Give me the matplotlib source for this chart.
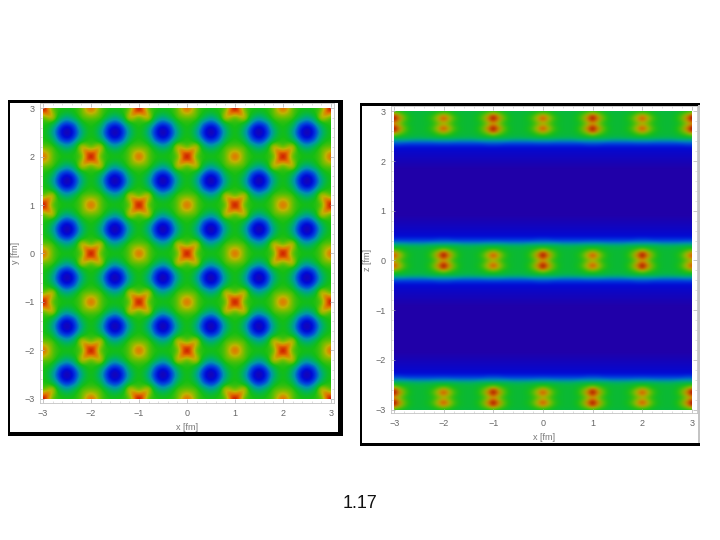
import numpy as np
import matplotlib as mpl
mpl.use('Agg')
import matplotlib.pyplot as plt
from matplotlib.colors import LinearSegmentedColormap
from matplotlib.patches import Rectangle
from matplotlib.ticker import MultipleLocator

W, H = 720, 540

# colour scale, low to high
scale_colors = ['#2300a5', '#000ad7', '#0046dc', '#0096aa', '#00b45a', '#14be14',
                '#6ebe00', '#beb400', '#e17800', '#d22800', '#a00000']

# xy slice, quarter tables around a lattice node, offsets 0..0.5 fm in 0.1 steps
node_big = [[1.00, .80, .56, .52, .51, .50],
            [.80, .87, .65, .52, .48, .45],
            [.56, .65, .75, .48, .38, .33],
            [.52, .52, .48, .36, .25, .21],
            [.51, .48, .38, .25, .12, .07],
            [.50, .45, .33, .21, .07, .01]]
node_small = [[.86, .74, .58, .52, .51, .50],
              [.74, .68, .57, .52, .47, .45],
              [.58, .57, .56, .46, .38, .33],
              [.52, .52, .46, .31, .25, .21],
              [.51, .47, .38, .25, .12, .07],
              [.50, .45, .33, .21, .07, .01]]

# xz slice, quarter tables around a lobe pair: z offset 0..0.5 (0.05 steps), x offset 0..0.5 (0.1 steps)
band_big = [[.76, .66, .54, .47, .46, .45],
            [.88, .72, .57, .49, .46, .45],
            [1.00, .78, .60, .50, .46, .45],
            [.92, .73, .58, .49, .46, .45],
            [.70, .61, .53, .47, .45, .45],
            [.54, .51, .47, .45, .44, .43],
            [.42, .42, .41, .40, .39, .38],
            [.30, .30, .30, .29, .28, .28],
            [.22, .22, .21, .20, .20, .20],
            [.15, .15, .14, .14, .14, .14],
            [.09, .09, .09, .09, .09, .09]]
band_small = [[.68, .61, .52, .47, .46, .45],
              [.78, .66, .54, .48, .46, .45],
              [.86, .70, .56, .49, .46, .45],
              [.78, .66, .54, .48, .46, .45],
              [.62, .56, .50, .46, .45, .45],
              [.50, .49, .46, .45, .44, .43],
              [.41, .41, .40, .39, .39, .38],
              [.29, .29, .29, .28, .28, .28],
              [.21, .21, .20, .20, .20, .20],
              [.14, .14, .14, .14, .14, .14],
              [.09, .09, .09, .09, .09, .09]]
# blue gap between the bands, z offset 0.55 .. 1.35 from the nearest band
gap_profile = [.08, .07, .06, .05, .04, .03, .02, .01, .01, .01, .01, .01, .01, .01, .01, .01, .01]
band_centres = [-2.75, 0.0, 2.75]

tick_values = [-3, -2, -1, 0, 1, 2, 3]


def xy_field():
    big, small = np.array(node_big), np.array(node_small)
    xs = np.round(np.arange(-3, 3.01, 0.1), 1)
    out = np.zeros((xs.size, xs.size))
    for j, y in enumerate(xs):
        for i, x in enumerate(xs):
            nx, ny = np.floor(x + 0.5), np.floor(y + 0.5)
            ix, iy = int(round(abs(x - nx) * 10)), int(round(abs(y - ny) * 10))
            out[j, i] = (big if (nx + ny) % 2 == 0 else small)[iy, ix]
    return out


def xz_field():
    big, small = np.array(band_big), np.array(band_small)
    xs = np.round(np.arange(-3, 3.01, 0.1), 1)
    zs = np.round(np.arange(-3, 3.001, 0.05), 2)
    out = np.zeros((zs.size, xs.size))
    for j, z in enumerate(zs):
        c = min(band_centres, key=lambda b: abs(z - b))
        iz = int(round(abs(z - c) * 20))
        odd = abs(c) > 1
        for i, x in enumerate(xs):
            nx = np.floor(x + 0.5)
            ix = int(round(abs(x - nx) * 10))
            is_big = (nx % 2 == 1) if odd else (nx % 2 == 0)
            if iz <= 10:
                out[j, i] = (big if is_big else small)[iz, ix]
            else:
                out[j, i] = gap_profile[min(iz - 11, len(gap_profile) - 1)]
    return out


def px_rect(fig, x0, y0, x1, y1, color):
    fig.add_artist(Rectangle((x0 / W, 1 - y1 / H), (x1 - x0) / W, (y1 - y0) / H,
                             transform=fig.transFigure, color=color, lw=0))


def panel(fig, box, xlim, ylim, field, dx, dy, ylabel, xlabel_y, ylabel_x):
    x0, y0, x1, y1 = box
    ax = fig.add_axes([x0 / W, 1 - y1 / H, (x1 - x0) / W, (y1 - y0) / H])
    im = ax.imshow(field, origin='lower', cmap=cmap, vmin=0, vmax=1, aspect='auto',
                   interpolation='bicubic',
                   extent=[-3 - dx / 2, 3 + dx / 2, -3 - dy / 2, 3 + dy / 2])
    im.set_clip_path(Rectangle((-3, -3), 6, 6, transform=ax.transData))
    ax.set_xlim(*xlim)
    ax.set_ylim(*ylim)
    ax.set_xticks(tick_values)
    ax.set_yticks(tick_values)
    ax.xaxis.set_minor_locator(MultipleLocator(0.2))
    ax.yaxis.set_minor_locator(MultipleLocator(0.2))
    ax.tick_params(which='major', direction='in', length=3.2, width=0.5, color='#b0b0b0',
                   labelsize=6.5, labelcolor='#666666', pad=4, top=True, right=True)
    ax.tick_params(which='minor', direction='in', length=1.6, width=0.4, color='#c8c8c8',
                   top=True, right=True)
    for s in ax.spines.values():
        s.set_color('#c4c4c4')
        s.set_linewidth(0.6)
    cx = (x0 + x1) / 2
    fig.text(cx / W, 1 - xlabel_y / H, 'x [fm]', fontsize=6.5, color='#777777', ha='center', va='center')
    fig.text(ylabel_x / W, 1 - (y0 + y1) / 2 / H, ylabel, fontsize=6.5, color='#777777',
             ha='center', va='center', rotation=90)


plt.rcParams['font.family'] = ['Liberation Sans', 'DejaVu Sans']
cmap = LinearSegmentedColormap.from_list('rainbowish', scale_colors)

fig = plt.figure(figsize=(W / 100, H / 100), dpi=100)

panel(fig, (40, 103, 334, 403), (-3.0625, 3.0625), (-3.09, 3.11), xy_field(), 0.1, 0.1, 'y [fm]', 427, 16)
panel(fig, (391, 106, 697, 413), (-3.065, 3.105), (-3.07, 3.11), xz_field(), 0.1, 0.05, 'z [fm]', 437, 367)

# black slide frames around the two pictures
px_rect(fig, 8, 100, 343, 103, 'black')
px_rect(fig, 8, 100, 10, 436, 'black')
px_rect(fig, 8, 432, 343, 436, 'black')
px_rect(fig, 338, 100, 343, 436, 'black')
px_rect(fig, 360, 103, 700, 105.5, 'black')
px_rect(fig, 360, 103, 362, 446, 'black')
px_rect(fig, 360, 443, 700, 446, 'black')
px_rect(fig, 698, 105, 700, 443, '#c4c4c4')

fig.text(360 / W, 1 - 503.5 / H, '1.17', fontsize=13, color='#111111', ha='center', va='center')

fig.savefig('out.png', dpi=100)
